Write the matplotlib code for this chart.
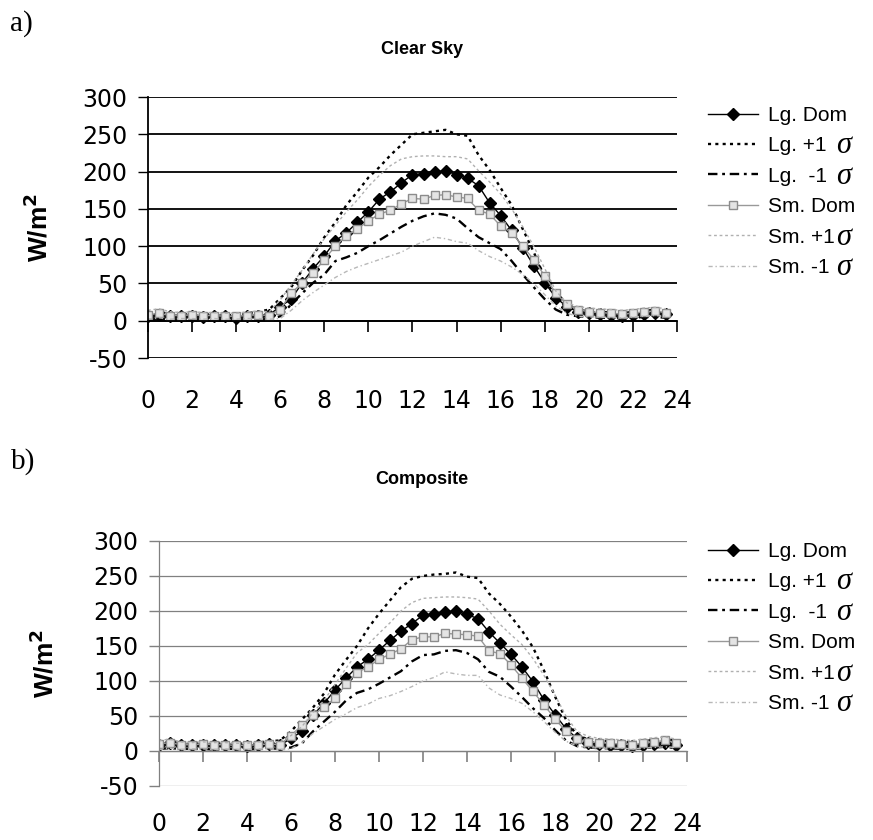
import matplotlib
matplotlib.use('Agg')
import matplotlib.pyplot as plt
import numpy as np

plt.rcParams['font.family'] = ['Liberation Sans', 'DejaVu Sans']
plt.rcParams['axes.unicode_minus'] = False

# half-hourly categories, 0 .. 23.5 h
hours = np.arange(0, 24, 0.5)
xtick_vals = [0, 2, 4, 6, 8, 10, 12, 14, 16, 18, 20, 22, 24]
ytick_vals = [-50, 0, 50, 100, 150, 200, 250, 300]

# legend labels; the sigma is added afterwards in a bigger italic font
labels = ['Lg. Dom', 'Lg. +1', 'Lg.  -1', 'Sm. Dom', 'Sm. +1', 'Sm. -1']
sigma_gap = [None, 9, 9, None, 1, 6]

# a) Clear Sky
clr_lg_dom = [6, 8, 6, 6, 6, 5, 6, 6, 4, 6, 7, 8,
              19, 29, 51, 70, 87, 107, 118, 132, 146, 163, 173, 185,
              196, 197, 200, 201, 196, 191, 181, 158, 141, 121, 98, 74,
              51, 31, 19, 12, 10, 9, 8, 7, 8, 9, 10, 9]
clr_lg_p1 = [10, 12, 9, 8, 9, 8, 9, 8, 7, 10, 12, 15,
             30, 45, 68, 88, 112, 132, 155, 173, 192, 206, 222, 236,
             250, 252, 254, 256, 250, 248, 222, 202, 178, 155, 123, 92,
             58, 30, 18, 14, 13, 12, 11, 10, 12, 13, 15, 13]
clr_lg_m1 = [2, 3, 2, 2, 3, 2, 2, 2, 1, 2, 3, 2,
             6, 22, 37, 51, 62, 80, 85, 91, 100, 108, 117, 126,
             134, 140, 144, 142, 137, 124, 112, 104, 96, 80, 62, 45,
             29, 15, 8, 6, 5, 4, 4, 3, 4, 5, 5, 4]
clr_sm_dom = [8, 10, 7, 7, 8, 7, 7, 6, 6, 7, 8, 7,
              15, 37, 51, 64, 82, 100, 114, 123, 134, 143, 148, 157,
              164, 163, 168, 169, 166, 164, 148, 143, 127, 118, 100, 82,
              60, 37, 22, 15, 12, 11, 10, 9, 10, 12, 13, 11]
clr_sm_p1 = [14, 16, 12, 11, 12, 11, 11, 10, 10, 12, 13, 12,
             28, 48, 68, 90, 110, 128, 146, 162, 180, 195, 208, 217,
             220, 221, 221, 220, 220, 217, 201, 186, 170, 150, 126, 100,
             70, 40, 24, 19, 17, 16, 15, 14, 15, 17, 18, 16]
clr_sm_m1 = [2, 4, 2, 3, 3, 2, 3, 2, 2, 3, 3, 2,
             3, 14, 27, 38, 48, 58, 66, 72, 77, 82, 87, 92,
             100, 106, 112, 110, 106, 104, 94, 86, 80, 72, 62, 50,
             35, 20, 10, 6, 5, 5, 4, 4, 5, 6, 7, 6]

# b) Composite
cmp_lg_dom = [9, 12, 9, 8, 9, 8, 9, 9, 7, 9, 10, 8,
              18, 28, 51, 68, 87, 104, 120, 131, 144, 158, 171, 182,
              194, 195, 199, 200, 195, 189, 170, 154, 138, 120, 99, 73,
              52, 32, 18, 12, 10, 9, 8, 7, 8, 10, 11, 9]
cmp_lg_p1 = [13, 15, 12, 11, 12, 11, 12, 11, 10, 12, 14, 15,
             28, 45, 62, 82, 109, 130, 150, 175, 196, 215, 234, 246,
             250, 252, 253, 255, 249, 247, 225, 210, 192, 172, 148, 115,
             78, 45, 22, 17, 15, 14, 13, 12, 14, 16, 17, 15]
cmp_lg_m1 = [3, 4, 3, 3, 3, 2, 3, 3, 2, 3, 4, 3,
             5, 11, 28, 42, 56, 72, 83, 88, 96, 105, 114, 128,
             137, 138, 143, 144, 140, 131, 113, 106, 92, 77, 61, 47,
             30, 15, 7, 5, 4, 4, 3, 3, 4, 5, 6, 4]
cmp_sm_dom = [10, 12, 9, 9, 10, 9, 9, 8, 8, 9, 10, 9,
              22, 37, 51, 63, 75, 95, 112, 120, 131, 138, 146, 159,
              163, 163, 168, 167, 166, 164, 143, 139, 123, 104, 85, 66,
              46, 28, 17, 13, 12, 11, 10, 9, 11, 13, 15, 12]
cmp_sm_p1 = [15, 17, 13, 12, 13, 12, 12, 11, 11, 13, 14, 13,
             22, 35, 55, 72, 95, 118, 140, 152, 168, 183, 200, 212,
             218, 219, 220, 220, 219, 217, 200, 181, 166, 152, 132, 108,
             80, 50, 28, 21, 18, 17, 16, 15, 17, 19, 20, 17]
cmp_sm_m1 = [2, 4, 2, 3, 3, 2, 3, 2, 2, 3, 3, 2,
             3, 12, 25, 35, 45, 53, 62, 67, 75, 79, 85, 92,
             100, 105, 113, 110, 108, 108, 90, 80, 75, 68, 56, 42,
             27, 14, 7, 5, 4, 4, 4, 3, 4, 5, 6, 5]

styles = [
    dict(color='black', lw=1.0, marker='D', ms=6),
    dict(color='black', lw=1.7, ls=(0, (1.3, 1.8))),
    dict(color='black', lw=1.7, ls=(0, (4, 2, 1.2, 2))),
    dict(color='#999999', lw=1.0, marker='s', ms=5.5, mfc='#e4e4e4', mec='#8c8c8c'),
    dict(color='#b0b0b0', lw=1.0, ls=(0, (2, 2))),
    dict(color='#b8b8b8', lw=1.0, ls=(0, (3, 2, 1, 2))),
]


def draw_panel(ax, series, gcol, glw, leg_y, xpad):
    for vals, lab, st in zip(series, labels, styles):
        ax.plot(hours, vals, label=lab, **st)
    ax.set_xlim(0, 24)
    ax.set_ylim(-50, 300)
    ax.set_yticks(ytick_vals)
    ax.tick_params(axis='y', labelsize=17, length=7, width=1, color=gcol, pad=8)
    for t in ax.get_yticklabels():
        t.set_family('DejaVu Sans')
    for y in ytick_vals:
        ax.axhline(y, color=gcol, lw=glw, zorder=0)
    for s in ['top', 'right']:
        ax.spines[s].set_visible(False)
    ax.spines['left'].set_color(gcol)
    ax.spines['left'].set_linewidth(glw)
    ax.spines['bottom'].set_position(('data', 0))
    ax.spines['bottom'].set_color(gcol)
    ax.spines['bottom'].set_linewidth(glw)
    ax.set_xticks(xtick_vals)
    ax.tick_params(axis='x', length=8, width=1.2, color=gcol, labelbottom=False)
    sec = ax.secondary_xaxis('bottom')
    sec.set_xticks(xtick_vals, [str(v) for v in xtick_vals], family='DejaVu Sans')
    sec.tick_params(length=0, labelsize=17, pad=xpad)
    sec.spines['bottom'].set_visible(False)
    ax.set_ylabel('W/m$^\\mathbf{2}$', fontsize=19, fontweight='bold')
    leg = ax.legend(loc='upper left', bbox_to_anchor=(0.811, leg_y),
                    bbox_transform=fig.transFigure, frameon=False, fontsize=15,
                    handlelength=2.4, handletextpad=0.5, labelspacing=0.55,
                    borderpad=0, borderaxespad=0)
    return leg


fig = plt.figure(figsize=(8.73, 8.4), dpi=100)
ax1 = fig.add_axes([0.1695, 0.5738, 0.606, 0.3107])
ax2 = fig.add_axes([0.1821, 0.0643, 0.6048, 0.2917])

leg1 = draw_panel(ax1, [clr_lg_dom, clr_lg_p1, clr_lg_m1, clr_sm_dom, clr_sm_p1, clr_sm_m1],
                  'black', 1.3, 0.874, 22)
leg2 = draw_panel(ax2, [cmp_lg_dom, cmp_lg_p1, cmp_lg_m1, cmp_sm_dom, cmp_sm_p1, cmp_sm_m1],
                  '#808080', 0.9, 0.355, 19)
ax1.yaxis.set_label_coords(-0.181, 0.5)
ax2.yaxis.set_label_coords(-0.19, 0.5)

fig.text(0.483, 0.9405, 'Clear Sky', fontsize=13, fontweight='bold', ha='center', va='center')
fig.text(0.483, 0.4286, 'Composite', fontsize=13, fontweight='bold', ha='center', va='center')

fig.text(0.011, 0.988, 'a)', fontsize=21, family='Liberation Serif', va='top')
fig.text(0.013, 0.466, 'b)', fontsize=21, family='Liberation Serif', va='top')

# bigger italic sigma after the +/-1 legend entries
fig.canvas.draw()
renderer = fig.canvas.get_renderer()
for leg in (leg1, leg2):
    for txt, gap in zip(leg.get_texts(), sigma_gap):
        if gap is None:
            continue
        bb = txt.get_window_extent(renderer)
        fig.text((bb.x1 + gap) / fig.bbox.width, (bb.y0 + bb.y1) / 2 / fig.bbox.height,
                 '\u03c3', fontsize=22, style='italic',
                 family=['Liberation Serif', 'DejaVu Serif'], va='center', ha='left')

fig.savefig('out.png', dpi=100)
